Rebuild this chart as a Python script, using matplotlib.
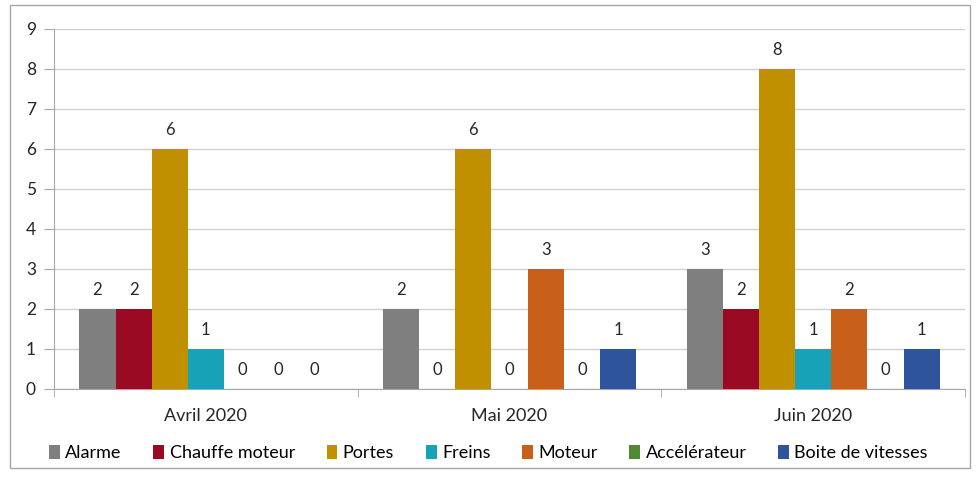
import numpy as np
import matplotlib
matplotlib.use("Agg")
import matplotlib.pyplot as plt
from matplotlib.patches import Rectangle

plt.rcParams['font.family'] = ['Lato', 'DejaVu Sans']

# ---------------- DATA ----------------
months = ["Avril 2020", "Mai 2020", "Juin 2020"]
series = ["Alarme", "Chauffe moteur", "Portes", "Freins", "Moteur",
          "Accélérateur", "Boite de vitesses"]
alarme = [2, 2, 3]
chauffe = [2, 0, 2]
portes = [6, 6, 8]
freins = [1, 0, 1]
moteur = [0, 3, 2]
accel = [0, 0, 0]
boite = [0, 1, 1]
colors = ["#7f7f7f", "#9b0a23", "#c09000", "#17a2b8", "#c8601a",
          "#4f8a32", "#2e559c"]

values = [alarme, chauffe, portes, freins, moteur, accel, boite]

# ---------------- FIGURE ----------------
fig = plt.figure(figsize=(9.77, 4.79), dpi=100)
ax = fig.add_axes([0.0553, 0.188, 0.9325, 0.7515])

fig.patches.append(Rectangle((10 / 977, 1 - 468 / 479), 960 / 977, 463 / 479,
                             transform=fig.transFigure, fill=False,
                             edgecolor="#a6a6a6", linewidth=1))

x = np.arange(len(months))
width = 0.119
for i, (name, vals, col) in enumerate(zip(series, values, colors)):
    pos = x + (i - 3) * width
    ax.bar(pos, vals, width=width, color=col, label=name, zorder=3)
    for px, v in zip(pos, vals):
        ax.text(px, v + 0.28, str(v), ha="center", va="bottom",
                fontsize=12, color="#262626")

ax.set_xlim(-0.5, 2.5)
ax.set_ylim(0, 9)
ax.set_yticks(range(10))
ax.yaxis.grid(True, color="#d0d0d0", linewidth=1, zorder=0)
ax.tick_params(axis="y", length=7, color="#a6a6a6", labelsize=12.5,
               labelcolor="#262626", pad=6)

ax.set_xticks(x)
ax.set_xticklabels(months, fontsize=13, color="#262626")
ax.tick_params(axis="x", length=0, pad=14)
ax.set_xticks([-0.5, 0.5, 1.5, 2.5], minor=True)
ax.tick_params(axis="x", which="minor", length=6, color="#a6a6a6")

for s in ["top", "right"]:
    ax.spines[s].set_visible(False)
ax.spines["left"].set_color("#a6a6a6")
ax.spines["bottom"].set_color("#a6a6a6")

fig.legend(loc="center", bbox_to_anchor=(0.5, 1 - 453 / 479), ncol=7,
           frameon=False, fontsize=13, handlelength=0.6, handleheight=0.8,
           handletextpad=0.3, columnspacing=1.75)

fig.savefig("out.png", dpi=100)
